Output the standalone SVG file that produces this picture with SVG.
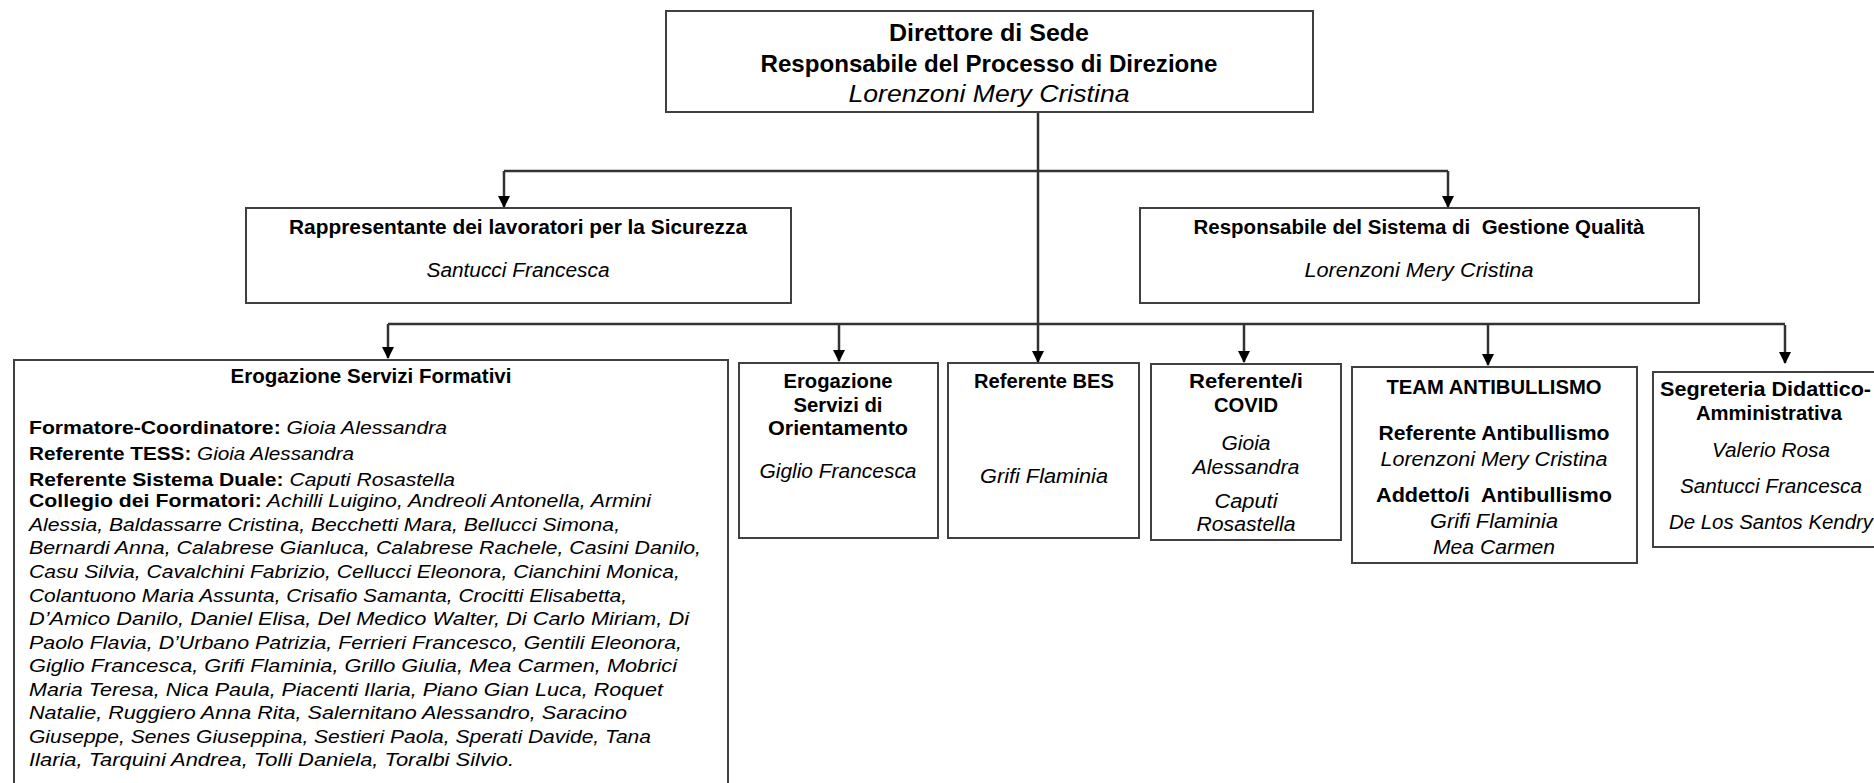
<svg xmlns="http://www.w3.org/2000/svg" width="1874" height="783" viewBox="0 0 1874 783">
<defs>
<style>
.box{fill:#fff;stroke:#404040;stroke-width:2}
.t{font-family:"Liberation Sans",Arial,sans-serif;fill:#000;font-size:20px;white-space:pre}
.b{font-weight:bold}
.i{font-style:italic}
.c{text-anchor:middle}
.big{font-size:24px}
.e{font-size:19px}
.ln{fill:none;stroke:#333;stroke-width:2.5}
</style>
<marker id="ah" markerWidth="12" markerHeight="12" viewBox="0 0 12 12" refX="11" refY="6" orient="auto" markerUnits="userSpaceOnUse">
<path d="M0,0 L12,6 L0,12 Z" fill="#000"/>
</marker>
</defs>
<rect width="1874" height="783" fill="#fff"/>
<g id="connectors">
<path class="ln" d="M504,171 H1448"/>
<path class="ln" d="M504,171 V207" marker-end="url(#ah)"/>
<path class="ln" d="M1448,171 V207" marker-end="url(#ah)"/>
<path class="ln" d="M388,324 H1785"/>
<path class="ln" d="M388,324 V358" marker-end="url(#ah)"/>
<path class="ln" d="M839,324 V361" marker-end="url(#ah)"/>
<path class="ln" d="M1038,112 V362" marker-end="url(#ah)"/>
<path class="ln" d="M1244,324 V362" marker-end="url(#ah)"/>
<path class="ln" d="M1488,325 V365" marker-end="url(#ah)"/>
<path class="ln" d="M1785,325 V363" marker-end="url(#ah)"/>
</g>
<g id="direttore">
<rect class="box" x="666" y="11" width="647" height="101"/>
<text class="t b c big" x="989" y="41" textLength="200" lengthAdjust="spacingAndGlyphs">Direttore di Sede</text>
<text class="t b c big" x="989" y="72" textLength="457" lengthAdjust="spacingAndGlyphs">Responsabile del Processo di Direzione</text>
<text class="t i c big" x="989" y="102" textLength="281" lengthAdjust="spacingAndGlyphs">Lorenzoni Mery Cristina</text>
</g>
<g id="rls">
<rect class="box" x="246" y="208" width="545" height="95"/>
<text class="t b c" x="518" y="234" textLength="458" lengthAdjust="spacingAndGlyphs">Rappresentante dei lavoratori per la Sicurezza</text>
<text class="t i c" x="518" y="277" textLength="183" lengthAdjust="spacingAndGlyphs">Santucci Francesca</text>
</g>
<g id="rsgq">
<rect class="box" x="1140" y="208" width="559" height="95"/>
<text class="t b c" x="1419" y="234" textLength="451" lengthAdjust="spacingAndGlyphs">Responsabile del Sistema di  Gestione Qualità</text>
<text class="t i c" x="1419" y="277" textLength="229" lengthAdjust="spacingAndGlyphs">Lorenzoni Mery Cristina</text>
</g>
<g id="esf">
<rect class="box" x="14" y="360" width="714" height="450"/>
<text class="t b c" x="371" y="383" textLength="281" lengthAdjust="spacingAndGlyphs">Erogazione Servizi Formativi</text>
<text class="t e" x="29" y="434" textLength="418" lengthAdjust="spacingAndGlyphs"><tspan class="b">Formatore-Coordinatore:</tspan><tspan class="i"> Gioia Alessandra</tspan></text>
<text class="t e" x="29" y="460" textLength="325" lengthAdjust="spacingAndGlyphs"><tspan class="b">Referente TESS:</tspan><tspan class="i"> Gioia Alessandra</tspan></text>
<text class="t e" x="29" y="485.5" textLength="426" lengthAdjust="spacingAndGlyphs"><tspan class="b">Referente Sistema Duale:</tspan><tspan class="i"> Caputi Rosastella</tspan></text>
<text class="t e" x="29" y="507" textLength="622" lengthAdjust="spacingAndGlyphs"><tspan class="b">Collegio dei Formatori:</tspan><tspan class="i"> Achilli Luigino, Andreoli Antonella, Armini</tspan></text>
<text class="t e i" x="29" y="530.5" textLength="591" lengthAdjust="spacingAndGlyphs">Alessia, Baldassarre Cristina, Becchetti Mara, Bellucci Simona,</text>
<text class="t e i" x="29" y="554" textLength="672" lengthAdjust="spacingAndGlyphs">Bernardi Anna, Calabrese Gianluca, Calabrese Rachele, Casini Danilo,</text>
<text class="t e i" x="29" y="578" textLength="651" lengthAdjust="spacingAndGlyphs">Casu Silvia, Cavalchini Fabrizio, Cellucci Eleonora, Cianchini Monica,</text>
<text class="t e i" x="29" y="601.5" textLength="598" lengthAdjust="spacingAndGlyphs">Colantuono Maria Assunta, Crisafio Samanta, Crocitti Elisabetta,</text>
<text class="t e i" x="29" y="625" textLength="660" lengthAdjust="spacingAndGlyphs">D’Amico Danilo, Daniel Elisa, Del Medico Walter, Di Carlo Miriam, Di</text>
<text class="t e i" x="29" y="648.5" textLength="653" lengthAdjust="spacingAndGlyphs">Paolo Flavia, D’Urbano Patrizia, Ferrieri Francesco, Gentili Eleonora,</text>
<text class="t e i" x="29" y="672" textLength="648" lengthAdjust="spacingAndGlyphs">Giglio Francesca, Grifi Flaminia, Grillo Giulia, Mea Carmen, Mobrici</text>
<text class="t e i" x="29" y="695.5" textLength="634" lengthAdjust="spacingAndGlyphs">Maria Teresa, Nica Paula, Piacenti Ilaria, Piano Gian Luca, Roquet</text>
<text class="t e i" x="29" y="719" textLength="598" lengthAdjust="spacingAndGlyphs">Natalie, Ruggiero Anna Rita, Salernitano Alessandro, Saracino</text>
<text class="t e i" x="29" y="742.5" textLength="622" lengthAdjust="spacingAndGlyphs">Giuseppe, Senes Giuseppina, Sestieri Paola, Sperati Davide, Tana</text>
<text class="t e i" x="29" y="766" textLength="485" lengthAdjust="spacingAndGlyphs">Ilaria, Tarquini Andrea, Tolli Daniela, Toralbi Silvio.</text>
</g>
<g id="orientamento">
<rect class="box" x="739" y="363" width="199" height="175"/>
<text class="t b c" x="838" y="388" textLength="109" lengthAdjust="spacingAndGlyphs">Erogazione</text>
<text class="t b c" x="838" y="411.5" textLength="89" lengthAdjust="spacingAndGlyphs">Servizi di</text>
<text class="t b c" x="838" y="435" textLength="140" lengthAdjust="spacingAndGlyphs">Orientamento</text>
<text class="t i c" x="838" y="478" textLength="157" lengthAdjust="spacingAndGlyphs">Giglio Francesca</text>
</g>
<g id="bes">
<rect class="box" x="948" y="363" width="191" height="175"/>
<text class="t b c" x="1044" y="388" textLength="140" lengthAdjust="spacingAndGlyphs">Referente BES</text>
<text class="t i c" x="1044" y="483" textLength="128" lengthAdjust="spacingAndGlyphs">Grifi Flaminia</text>
</g>
<g id="covid">
<rect class="box" x="1151" y="364" width="190" height="176"/>
<text class="t b c" x="1246" y="388" textLength="114" lengthAdjust="spacingAndGlyphs">Referente/i</text>
<text class="t b c" x="1246" y="412" textLength="64" lengthAdjust="spacingAndGlyphs">COVID</text>
<text class="t i c" x="1246" y="450" textLength="49" lengthAdjust="spacingAndGlyphs">Gioia</text>
<text class="t i c" x="1246" y="473.5" textLength="107" lengthAdjust="spacingAndGlyphs">Alessandra</text>
<text class="t i c" x="1246" y="508" textLength="63" lengthAdjust="spacingAndGlyphs">Caputi</text>
<text class="t i c" x="1246" y="531" textLength="99" lengthAdjust="spacingAndGlyphs">Rosastella</text>
</g>
<g id="antibullismo">
<rect class="box" x="1352" y="367" width="285" height="196"/>
<text class="t b c" x="1494" y="394" textLength="215" lengthAdjust="spacingAndGlyphs">TEAM ANTIBULLISMO</text>
<text class="t b c" x="1494" y="440" textLength="231" lengthAdjust="spacingAndGlyphs">Referente Antibullismo</text>
<text class="t i c" x="1494" y="466" textLength="227" lengthAdjust="spacingAndGlyphs">Lorenzoni Mery Cristina</text>
<text class="t b c" x="1494" y="502" textLength="236" lengthAdjust="spacingAndGlyphs">Addetto/i  Antibullismo</text>
<text class="t i c" x="1494" y="528" textLength="128" lengthAdjust="spacingAndGlyphs">Grifi Flaminia</text>
<text class="t i c" x="1494" y="554" textLength="122" lengthAdjust="spacingAndGlyphs">Mea Carmen</text>
</g>
<g id="segreteria">
<rect class="box" x="1653" y="372" width="240" height="175"/>
<text class="t b" x="1660" y="396" textLength="211" lengthAdjust="spacingAndGlyphs">Segreteria Didattico-</text>
<text class="t b c" x="1769" y="420" textLength="146" lengthAdjust="spacingAndGlyphs">Amministrativa</text>
<text class="t i c" x="1771" y="457" textLength="118" lengthAdjust="spacingAndGlyphs">Valerio Rosa</text>
<text class="t i c" x="1771" y="493" textLength="182" lengthAdjust="spacingAndGlyphs">Santucci Francesca</text>
<text class="t i c" x="1771" y="529" textLength="204" lengthAdjust="spacingAndGlyphs">De Los Santos Kendry</text>
</g>
</svg>
